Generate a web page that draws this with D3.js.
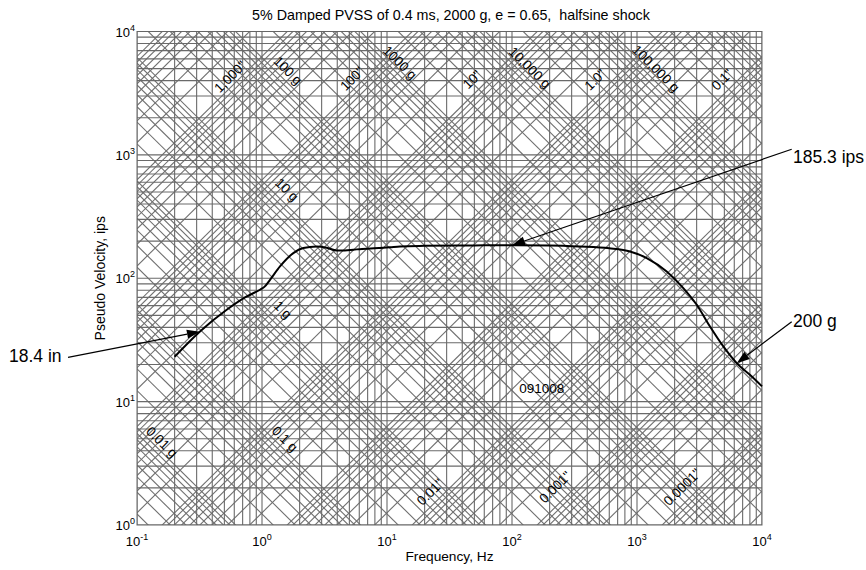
<!DOCTYPE html>
<html>
<head>
<meta charset="utf-8">
<script src="https://cdn.jsdelivr.net/npm/d3@7"></script>
<style>
  body { margin: 0; background: #fff; }
  text { font-family: "Liberation Sans", Arial, Helvetica, sans-serif; fill: #000; }
</style>
</head>
<body>
<svg id="chart" width="866" height="570"></svg>
<script>
// 5% damped pseudo-velocity shock spectrum on four-coordinate (tripartite) paper

// Spectrum curve: natural frequency (Hz) and pseudo velocity (ips)
const freqHz = [0.2, 0.319, 0.522, 0.755, 0.964, 1.05, 1.159, 1.393, 1.78, 2.14, 2.74, 3.29, 3.96,
  4.6, 5.38, 6.3, 7.4, 8.79, 10.5, 12.7, 20, 50, 100, 200, 350, 600, 879, 1196, 1728, 2346,
  3004, 3837, 4903, 6279, 8000, 10000];
const pvssIps = [23.1, 37.0, 55.5, 71.2, 80.7, 85.5, 97.2, 124.7, 160, 175.8, 181.2, 177, 168,
  168, 170.3, 173, 174, 175.8, 178, 181, 183, 184.5, 185.3, 184.5, 181, 175, 165, 145.8, 113.5, 83.3,
  61.0, 40.6, 28.0, 20.5, 16.5, 13.3];

// Axis decades (powers of ten)
const xTickExp = [-1, 0, 1, 2, 3, 4];
const yTickExp = [0, 1, 2, 3, 4];

// Diagonal scale labels: displacement (inches) and acceleration (g), with the frequency / velocity they sit at
const dispText = ['1,000"', '100"', '10"', '1.0"', '0.1"', '0.01"', '0.001"', '0.0001"'];
const dispF    = [0.555, 5.25, 47.9, 461, 4786, 22.1, 221, 2291];
const dispV    = [4315, 4155, 4083, 4083, 4083, 1.85, 2.03, 2.03];
const accText  = ['100 g', '1000 g', '10,000 g', '100,000 g', '10 g', '1 g', '0.1 g', '0.01 g'];
const accF     = [1.614, 12.7, 139, 1419, 1.585, 1.472, 1.528, 0.1585];
const accV     = [4830, 5600, 5105, 5012, 522, 55.5, 4.99, 4.71];

// Callouts: point on the curve (Hz, ips) and the text
const calloutText = ['18.4 in', '185.3 ips', '200 g'];
const calloutF    = [0.319, 100, 6279];
const calloutV    = [36.9, 185.3, 20.5];

const G_IPS2 = 386.1; // one g in in/s^2

const svg = d3.select('#chart');
const plot = { left: 137, right: 762, top: 31.5, bottom: 525 };

const x = d3.scaleLog().domain([0.1, 1e4]).range([plot.left, plot.right]);
const y = d3.scaleLog().domain([1, 1e4]).range([plot.bottom, plot.top]);

svg.append('defs').append('clipPath').attr('id', 'plotClip')
  .append('rect')
  .attr('x', plot.left).attr('y', plot.top)
  .attr('width', plot.right - plot.left).attr('height', plot.bottom - plot.top);

const grid = svg.append('g').attr('clip-path', 'url(#plotClip)');

// minor/major log values for a range of decades
function logSteps(e0, e1) {
  const out = [];
  for (let e = e0; e <= e1; e++) for (let m = 1; m <= 9; m++) out.push(m * Math.pow(10, e));
  out.push(Math.pow(10, e1 + 1));
  return out;
}

const diagColor = '#6f6f6f', rectColor = '#6a6a6a';

// constant displacement lines: V = 2*pi*f*D
logSteps(-6, 4).forEach(D => {
  const f0 = 0.1, f1 = 1e4;
  grid.append('line')
    .attr('x1', x(f0)).attr('y1', y(2 * Math.PI * f0 * D))
    .attr('x2', x(f1)).attr('y2', y(2 * Math.PI * f1 * D))
    .attr('stroke', diagColor).attr('stroke-width', 1.1);
});
// constant acceleration lines: V = A*g/(2*pi*f)
logSteps(-4, 6).forEach(A => {
  const f0 = 0.1, f1 = 1e4;
  grid.append('line')
    .attr('x1', x(f0)).attr('y1', y(A * G_IPS2 / (2 * Math.PI * f0)))
    .attr('x2', x(f1)).attr('y2', y(A * G_IPS2 / (2 * Math.PI * f1)))
    .attr('stroke', diagColor).attr('stroke-width', 1.1);
});

// rectangular log grid
logSteps(-1, 3).forEach(f => {
  grid.append('line').attr('x1', x(f)).attr('x2', x(f))
    .attr('y1', plot.top).attr('y2', plot.bottom)
    .attr('stroke', rectColor).attr('stroke-width', 1.1);
});
logSteps(0, 3).forEach(v => {
  grid.append('line').attr('y1', y(v)).attr('y2', y(v))
    .attr('x1', plot.left).attr('x2', plot.right)
    .attr('stroke', rectColor).attr('stroke-width', 1.1);
});

// plot frame
svg.append('rect')
  .attr('x', plot.left).attr('y', plot.top)
  .attr('width', plot.right - plot.left).attr('height', plot.bottom - plot.top)
  .attr('fill', 'none').attr('stroke', '#666').attr('stroke-width', 1);

// angle of the diagonals in screen space
const slopeAng = Math.atan2(y(10) - y(100), x(100) - x(10)) * 180 / Math.PI;

// diagonal labels
const diagLabels = svg.append('g').attr('font-size', 13.5);
dispText.forEach((t, i) => {
  const px = x(dispF[i]), py = y(dispV[i]);
  diagLabels.append('text')
    .attr('transform', `translate(${px},${py}) rotate(${-slopeAng})`)
    .attr('text-anchor', 'middle').attr('dy', '0.35em')
    .text(t);
});
accText.forEach((t, i) => {
  const px = x(accF[i]), py = y(accV[i]);
  diagLabels.append('text')
    .attr('transform', `translate(${px},${py}) rotate(${slopeAng})`)
    .attr('text-anchor', 'middle').attr('dy', '0.35em')
    .text(t);
});

// test id
svg.append('text')
  .attr('x', x(173)).attr('y', y(11.77))
  .attr('text-anchor', 'middle').attr('font-size', 13.5)
  .text('091008');

// spectrum curve
const line = d3.line()
  .x((d, i) => x(freqHz[i]))
  .y((d, i) => y(pvssIps[i]))
  .curve(d3.curveMonotoneX);
svg.append('path')
  .datum(freqHz)
  .attr('d', line)
  .attr('fill', 'none').attr('stroke', '#000').attr('stroke-width', 2)
  .attr('stroke-linejoin', 'round');

// axis tick labels (powers of ten)
const ticks = svg.append('g').attr('font-size', 13);
xTickExp.forEach(e => {
  const t = ticks.append('text')
    .attr('x', x(Math.pow(10, e))).attr('y', 546)
    .attr('text-anchor', 'middle');
  t.append('tspan').text('10');
  t.append('tspan').attr('dy', -6).attr('font-size', 9).text(e);
});
yTickExp.forEach(e => {
  const t = ticks.append('text')
    .attr('x', plot.left - 2).attr('y', y(Math.pow(10, e)) + 5)
    .attr('text-anchor', 'end');
  t.append('tspan').text('10');
  t.append('tspan').attr('dy', -6).attr('font-size', 9).text(e);
});

// axis titles and chart title
svg.append('text')
  .attr('x', (plot.left + plot.right) / 2).attr('y', 561)
  .attr('text-anchor', 'middle').attr('font-size', 13.7)
  .text('Frequency, Hz');
svg.append('text')
  .attr('transform', `translate(105,${(plot.top + plot.bottom) / 2}) rotate(-90)`)
  .attr('text-anchor', 'middle').attr('font-size', 14)
  .text('Pseudo Velocity, ips');
svg.append('text')
  .attr('x', 451).attr('y', 20)
  .attr('text-anchor', 'middle').attr('font-size', 14.3)
  .style('white-space', 'pre')
  .text('5% Damped PVSS of 0.4 ms, 2000 g, e = 0.65,  halfsine shock');

// callouts with arrows
const calloutTail = [[68, 357.3], [791.7, 149.3], [791.7, 321.7]];
const calloutTextPos = [[9, 361.7, 'start'], [793, 163.3, 'start'], [793, 326.7, 'start']];
const callouts = svg.append('g');
calloutText.forEach((t, i) => {
  const tipX = x(calloutF[i]), tipY = y(calloutV[i]);
  const [tx, ty] = calloutTail[i];
  const ang = Math.atan2(tipY - ty, tipX - tx);
  const L = 13, Wd = 4.5;
  const bx = tipX - L * Math.cos(ang), by = tipY - L * Math.sin(ang);
  callouts.append('line')
    .attr('x1', tx).attr('y1', ty).attr('x2', bx).attr('y2', by)
    .attr('stroke', '#000').attr('stroke-width', 1.2);
  const pts = [
    [tipX, tipY],
    [bx + Wd * Math.sin(ang), by - Wd * Math.cos(ang)],
    [bx - Wd * Math.sin(ang), by + Wd * Math.cos(ang)]
  ];
  callouts.append('path')
    .attr('d', 'M' + pts.map(p => p.join(',')).join('L') + 'Z')
    .attr('fill', '#000');
  const [lx, ly, anchor] = calloutTextPos[i];
  callouts.append('text')
    .attr('x', lx).attr('y', ly).attr('text-anchor', anchor)
    .attr('font-size', 17.5)
    .text(t);
});
</script>
</body>
</html>
